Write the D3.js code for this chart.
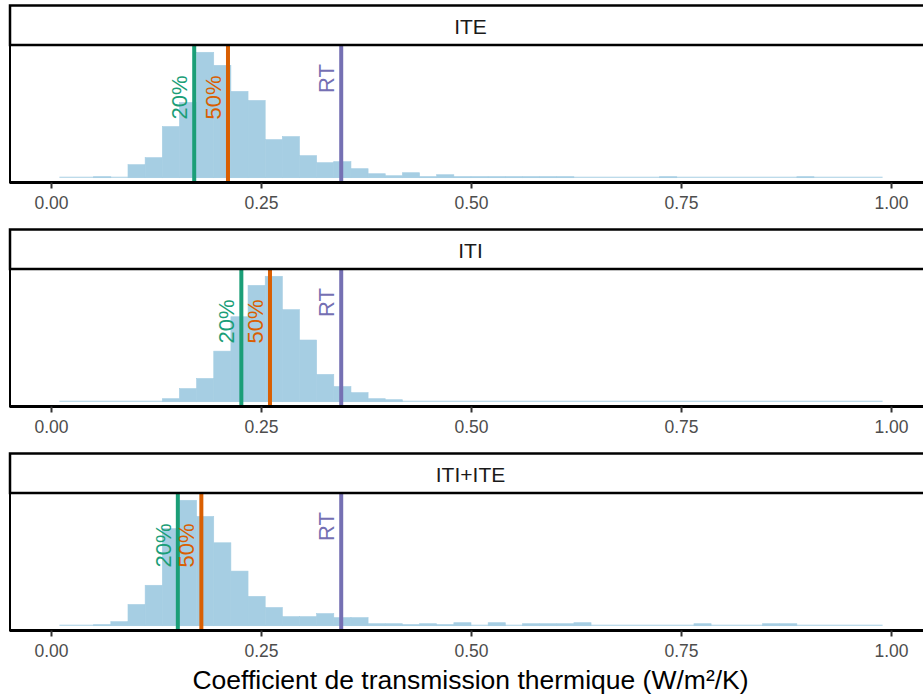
<!DOCTYPE html>
<html>
<head>
<meta charset="utf-8">
<script src="https://cdn.jsdelivr.net/npm/d3@7"></script>
<style>
  html, body { margin: 0; padding: 0; background: #fff; }
  svg { display: block; font-family: "Liberation Sans", Arial, sans-serif; }
</style>
</head>
<body>
<svg id="chart" width="923" height="697"></svg>
<script>
// ---------------- data ----------------
const facets = ["ITE", "ITI", "ITI+ITE"];
const binStart = 0.01;
const binEnd = 0.99;
const binCount = 48;

const countsITE = [0,0,1,0,13,20,51,75,125,112,86,77,38,41,22,15,16,9,4,2,5,1,3,1,1,1,1,1,1,1,0,0,0,0,0,1,0,0,0,0,0,0,0,1,0,0,0,0];
const countsITI = [0,0,0,0,0,0,3,13,23,50,84,115,124,91,61,27,15,9,3,2,0,0,0,0,0,0,0,0,0,0,0,0,0,0,0,0,0,0,0,0,0,0,0,0,0,0,0,0];
const countsMix = [0,0,1,4,21,40,96,124,108,82,54,29,18,9,9,12,8,8,2,2,1,2,1,3,0,3,0,2,2,2,3,0,0,0,0,0,0,2,0,0,0,2,2,0,0,0,0,0];
const facetCounts = [countsITE, countsITI, countsMix];

const q20 = [0.1705, 0.2266, 0.151];
const q50 = [0.2107, 0.2607, 0.179];
const rt = 0.3455;

const refNames = ["20%", "50%", "RT"];
const xTicks = [0, 0.25, 0.5, 0.75, 1.0];
const xTitle = "Coefficient de transmission thermique (W/m²/K)";

// ---------------- layout ----------------
const svg = d3.select("#chart");
const panelLeft = 10, panelRight = 932;
const stripTop0 = 5.5, facetStep = 224, stripH = 39.5, panelH = 137.5;
const colors = { bar: "#a6cee3", q20: "#1b9e77", q50: "#d95f02", rt: "#7570b3" };

const x = d3.scaleLinear().domain([-0.0488, 1.0488]).range([panelLeft, panelRight]);
const binW = (binEnd - binStart) / binCount;

facets.forEach((name, i) => {
  const sTop = stripTop0 + i * facetStep;
  const pTop = sTop + stripH;
  const pBot = pTop + panelH;
  const counts = facetCounts[i];
  const maxC = d3.max(counts);
  const y = d3.scaleLinear().domain([-0.03 * maxC, 1.05 * maxC]).range([pBot - 1, pTop + 1]);

  const g = svg.append("g");

  g.append("rect").attr("x", panelLeft).attr("y", pTop).attr("width", panelRight - panelLeft)
    .attr("height", panelH).attr("fill", "#fff");

  // bars
  const bins = counts.map((c, k) => ({ x0: binStart + k * binW, x1: binStart + (k + 1) * binW, c }));
  // zero-height bins still show their outline as a thin line
  g.append("line")
    .attr("x1", x(bins[0].x0)).attr("x2", x(bins[bins.length - 1].x1))
    .attr("y1", y(0) - 0.5).attr("y2", y(0) - 0.5)
    .attr("stroke", colors.bar).attr("stroke-width", 1);
  g.selectAll("rect.bar").data(bins.filter(d => d.c > 0)).join("rect")
    .attr("class", "bar")
    .attr("x", d => x(d.x0))
    .attr("width", d => x(d.x1) - x(d.x0))
    .attr("y", d => y(d.c))
    .attr("height", d => y(0) - y(d.c))
    .attr("fill", colors.bar)
    .attr("stroke", colors.bar)
    .attr("stroke-width", 0.6);

  // reference lines
  const refs = [
    { v: q20[i], col: colors.q20, label: refNames[0], frac: 0.64 },
    { v: q50[i], col: colors.q50, label: refNames[1], frac: 0.64 },
    { v: rt, col: colors.rt, label: refNames[2], frac: 0.79 }
  ];
  refs.forEach(r => {
    g.append("line")
      .attr("x1", x(r.v)).attr("x2", x(r.v))
      .attr("y1", pTop).attr("y2", pBot)
      .attr("stroke", r.col).attr("stroke-width", 4);
    const tx = x(r.v) - 7, ty = y(r.frac * maxC);
    g.append("text")
      .attr("transform", `translate(${tx},${ty}) rotate(-90)`)
      .attr("text-anchor", "middle")
      .attr("fill", r.col)
      .attr("font-size", 22)
      .text(r.label);
  });

  // panel border
  g.append("rect").attr("x", panelLeft).attr("y", pTop).attr("width", panelRight - panelLeft)
    .attr("height", panelH).attr("fill", "none").attr("stroke", "#000").attr("stroke-width", 2);
  g.append("line").attr("x1", panelLeft).attr("x2", panelRight).attr("y1", pBot).attr("y2", pBot)
    .attr("stroke", "#000").attr("stroke-width", 3);

  // strip
  g.append("rect").attr("x", panelLeft).attr("y", sTop).attr("width", panelRight - panelLeft)
    .attr("height", stripH).attr("fill", "#fff").attr("stroke", "#000").attr("stroke-width", 2.5);
  g.append("text").attr("x", (panelLeft + 923) / 2 + 4).attr("y", sTop + stripH / 2 + 1)
    .attr("dy", "0.36em").attr("text-anchor", "middle").attr("font-size", 21)
    .attr("fill", "#1a1a1a").text(name);

  // x axis
  const axis = d3.axisBottom(x).tickValues(xTicks).tickFormat(d3.format(".2f")).tickSize(6).tickPadding(8);
  const ag = g.append("g").attr("transform", `translate(0,${pBot})`).call(axis);
  ag.select(".domain").remove();
  ag.selectAll(".tick line").attr("stroke", "#333").attr("stroke-width", 2);
  ag.selectAll(".tick text").attr("fill", "#4d4d4d").attr("font-size", 17.5)
    .attr("font-family", "Liberation Sans, Arial, sans-serif");
});

// x title
svg.append("text").attr("x", 470.5).attr("y", 689).attr("text-anchor", "middle")
  .attr("font-size", 26.5).attr("fill", "#000").text(xTitle);
</script>
</body>
</html>
